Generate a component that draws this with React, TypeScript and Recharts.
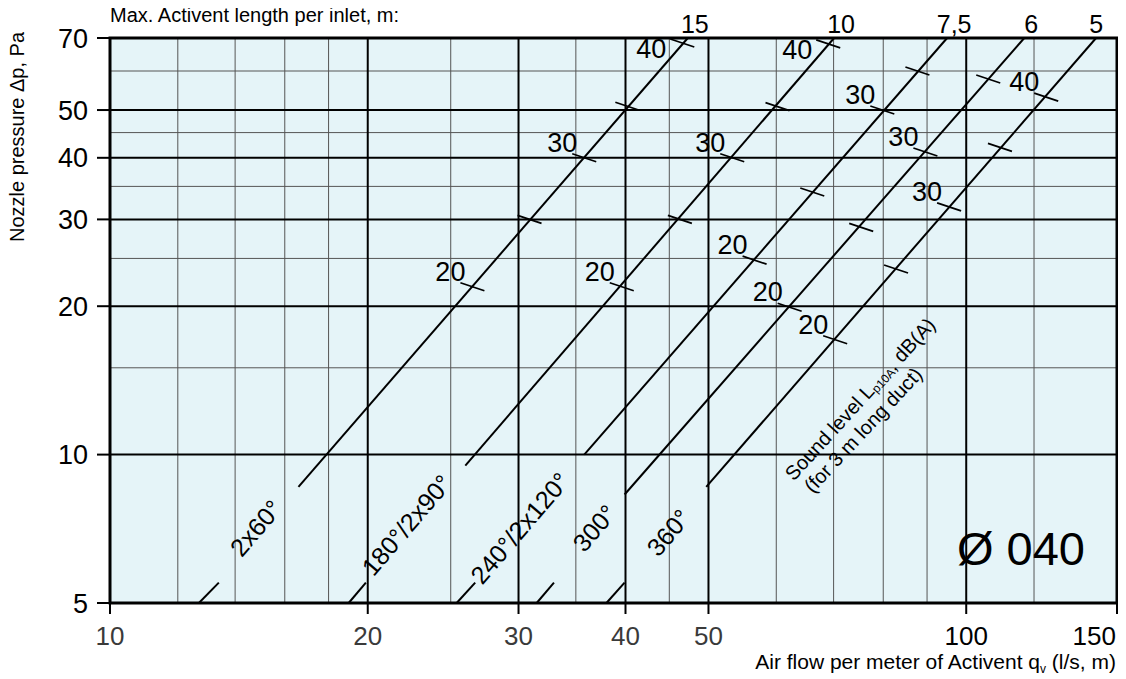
import React from 'react';
import {
  ComposedChart,
  Line,
  Scatter,
  XAxis,
  YAxis,
  CartesianGrid,
  ReferenceArea,
} from 'recharts';

const FONT = '"Liberation Sans", Arial, Helvetica, sans-serif';
const W = 1110;
const H = 671;

// ---- axes ----
const xTicks = [10, 20, 30, 40, 50, 100, 150];
const yTicks = [5, 10, 20, 30, 40, 50, 70];
const xGridMinor = [12, 14, 16, 18, 25, 35, 45, 60, 70, 80, 90, 120];
const xGridMajor = [20, 30, 40, 50, 100];
const yGridMinor = [15, 25, 35, 45, 60];
const yGridMajor = [10, 20, 30, 40, 50];

// ---- curves ----
const curveNames = ['2x60°', '180°/2x90°', '240°/2x120°', '300°', '360°'];
const maxLengths = ['15', '10', '7,5', '6', '5'];

// each curve: short lower stub, gap (curve name), main segment  (q l/s·m, Δp Pa)
const stub2x60 = [{ q: 12.7, p: 5 }, { q: 13.4, p: 5.5 }];
const main2x60 = [{ q: 16.6, p: 8.6 }, { q: 47.3, p: 70 }];
const stub180 = [{ q: 19.0, p: 5 }, { q: 19.9, p: 5.5 }];
const main180 = [{ q: 26.0, p: 9.5 }, { q: 70.1, p: 70 }];
const stub240 = [{ q: 25.4, p: 5 }, { q: 26.7, p: 5.5 }];
const main240 = [{ q: 35.8, p: 10.0 }, { q: 95.0, p: 70 }];
const stub300 = [{ q: 31.5, p: 5 }, { q: 33.0, p: 5.5 }];
const main300 = [{ q: 39.9, p: 8.3 }, { q: 116.9, p: 70 }];
const stub360 = [{ q: 38.0, p: 5 }, { q: 39.9, p: 5.5 }];
const main360 = [{ q: 49.7, p: 8.6 }, { q: 141.8, p: 70 }];

// sound level marks on each curve (dB(A))
const sound2x60 = [
  { q: 26.5, p: 21.9, db: 20 },
  { q: 30.9, p: 30.0, db: 25 },
  { q: 35.8, p: 40.0, db: 30 },
  { q: 40.2, p: 50.9, db: 35 },
  { q: 46.6, p: 68.4, db: 40 },
];
const sound180 = [
  { q: 39.6, p: 21.9, db: 20 },
  { q: 46.3, p: 30.0, db: 25 },
  { q: 53.3, p: 40.0, db: 30 },
  { q: 60.2, p: 50.8, db: 35 },
  { q: 69.0, p: 68.1, db: 40 },
];
const sound240 = [
  { q: 56.6, p: 24.8, db: 20 },
  { q: 66.1, p: 34.1, db: 25 },
  { q: 79.8, p: 50.0, db: 30 },
  { q: 87.7, p: 60.0, db: 35 },
];
const sound300 = [
  { q: 62.2, p: 19.9, db: 20 },
  { q: 75.4, p: 28.9, db: 25 },
  { q: 89.6, p: 41.1, db: 30 },
  { q: 106.1, p: 57.8, db: 35 },
];
const sound360 = [
  { q: 70.3, p: 17.1, db: 20 },
  { q: 82.8, p: 23.8, db: 25 },
  { q: 95.5, p: 31.8, db: 30 },
  { q: 109.5, p: 42.0, db: 35 },
  { q: 124.0, p: 53.1, db: 40 },
];

// where the curve names sit (in the gap of each curve)
const curveNameAt = [
  { q: 14.8, p: 7.1 },
  { q: 22.2, p: 7.2 },
  { q: 30.1, p: 7.1 },
  { q: 36.8, p: 7.1 },
  { q: 44.9, p: 6.95 },
];

const stubs = [stub2x60, stub180, stub240, stub300, stub360];
const mains = [main2x60, main180, main240, main300, main360];
const sounds = [sound2x60, sound180, sound240, sound300, sound360];

const topLabels = mains.map((m, i) => ({
  q: m[1].q,
  p: m[1].p,
  label: maxLengths[i],
  last: i === mains.length - 1,
}));
const nameLabels = curveNameAt.map((d, i) => ({ ...d, label: curveNames[i] }));

const SoundMark = (props: any) => {
  const { cx, cy, payload } = props;
  if (cx == null || cy == null) return <g />;
  const showLabel = payload.db % 10 === 0;
  const nearTop = payload.p > 62;
  return (
    <g>
      <line x1={cx - 12} y1={cy - 4} x2={cx + 12} y2={cy + 4} stroke="#000" strokeWidth={1.7} />
      {showLabel && (
        <text
          x={cx + (nearTop ? -31 : -22)}
          y={cy + (nearTop ? 6 : -15)}
          textAnchor="middle"
          dominantBaseline="central"
          fontSize={27}
          fontFamily={FONT}
          fill="#000"
        >
          {payload.db}
        </text>
      )}
    </g>
  );
};

const TopLabel = (props: any) => {
  const { cx, cy, payload } = props;
  if (cx == null || cy == null) return <g />;
  return (
    <text
      x={cx + (payload.last ? 0 : 7)}
      y={cy - 5}
      textAnchor="middle"
      fontSize={25}
      fontFamily={FONT}
      fill="#000"
    >
      {payload.label}
    </text>
  );
};

const NameLabel = (props: any) => {
  const { cx, cy, payload } = props;
  if (cx == null || cy == null) return <g />;
  return (
    <text
      transform={`translate(${cx},${cy}) rotate(-49.5)`}
      textAnchor="middle"
      dominantBaseline="central"
      fontSize={25}
      fontFamily={FONT}
      fill="#000"
    >
      {payload.label}
    </text>
  );
};

const renderXTick = (props: any) => {
  const { x, y, payload } = props;
  const v = payload.value;
  const last = v === xTicks[xTicks.length - 1];
  return (
    <text
      x={last ? x - 1 : x}
      y={y}
      dy="0.71em"
      textAnchor={last ? 'end' : 'middle'}
      fontSize={26}
      fontFamily={FONT}
      fill={v <= 50 ? '#3a3a3a' : '#000'}
    >
      {v}
    </text>
  );
};

export default function App() {
  return (
    <div style={{ position: 'relative', width: W, height: H, fontFamily: FONT }}>
      <ComposedChart width={W} height={H} margin={{ top: 30, right: 1, bottom: 26, left: 42 }}>
        <CartesianGrid
          fill="#e5f4f8"
          stroke="#555"
          strokeWidth={1}
          verticalValues={xGridMinor}
          horizontalValues={yGridMinor}
        />
        <CartesianGrid
          fill="none"
          stroke="#000"
          strokeWidth={2}
          verticalValues={xGridMajor}
          horizontalValues={yGridMajor}
        />
        <XAxis
          dataKey="q"
          type="number"
          scale="log"
          domain={[10, 150]}
          ticks={xTicks}
          interval={0}
          tickSize={11}
          tickMargin={13}
          height={50}
          axisLine={false}
          tickLine={{ stroke: '#000', strokeWidth: 2 }}
          tick={renderXTick}
        />
        <YAxis
          dataKey="p"
          type="number"
          scale="log"
          domain={[5, 70]}
          ticks={yTicks}
          interval={0}
          tickSize={13}
          tickMargin={9}
          width={60}
          axisLine={false}
          tickLine={{ stroke: '#000', strokeWidth: 2 }}
          tick={{ fontSize: 27, fill: '#000', fontFamily: FONT }}
        />
        {stubs.map((d, i) => (
          <Line
            key={'s' + i}
            data={d}
            dataKey="p"
            type="linear"
            stroke="#000"
            strokeWidth={2}
            dot={false}
            activeDot={false}
            isAnimationActive={false}
          />
        ))}
        {mains.map((d, i) => (
          <Line
            key={'m' + i}
            data={d}
            dataKey="p"
            type="linear"
            stroke="#000"
            strokeWidth={2}
            dot={false}
            activeDot={false}
            isAnimationActive={false}
          />
        ))}
        {sounds.map((d, i) => (
          <Scatter key={'t' + i} data={d} dataKey="p" shape={SoundMark} isAnimationActive={false} />
        ))}
        <Scatter data={topLabels} dataKey="p" shape={TopLabel} isAnimationActive={false} />
        <Scatter data={nameLabels} dataKey="p" shape={NameLabel} isAnimationActive={false} />
        <ReferenceArea
          x1={10}
          x2={150}
          y1={5}
          y2={70}
          fill="none"
          fillOpacity={0}
          stroke="#000"
          strokeWidth={3}
          ifOverflow="visible"
        />
      </ComposedChart>
      <svg
        width={1126}
        height={679}
        style={{ position: 'absolute', left: -8, top: -8, pointerEvents: 'none', overflow: 'visible' }}
      >
        <text x={110} y={22} fontSize={20} fontFamily={FONT} fill="#000">
          Max. Activent length per inlet, m:
        </text>
        <text
          transform="translate(24,137) rotate(-90)"
          textAnchor="middle"
          fontSize={20}
          fontFamily={FONT}
          fill="#000"
        >
          Nozzle pressure Δp, Pa
        </text>
        <text x={1116} y={669} textAnchor="end" fontSize={21} fontFamily={FONT} fill="#000">
          Air flow per meter of Activent q
          <tspan dy={4} fontSize={12}>v</tspan>
          <tspan dy={-4}> (l/s, m)</tspan>
        </text>
        <text x={1085} y={565} textAnchor="end" fontSize={47} fontFamily={FONT} fill="#000">
          Ø 040
        </text>
        <text
          transform="translate(860,399) rotate(-47.5)"
          textAnchor="middle"
          dominantBaseline="central"
          fontSize={20}
          fontFamily={FONT}
          fill="#000"
        >
          Sound level L
          <tspan dy={5} fontSize={12}>p10A</tspan>
          <tspan dy={-5}>, dB(A)</tspan>
        </text>
        <text
          transform="translate(863,430) rotate(-47)"
          textAnchor="middle"
          dominantBaseline="central"
          fontSize={20}
          fontFamily={FONT}
          fill="#000"
        >
          (for 3 m long duct)
        </text>
      </svg>
    </div>
  );
}
